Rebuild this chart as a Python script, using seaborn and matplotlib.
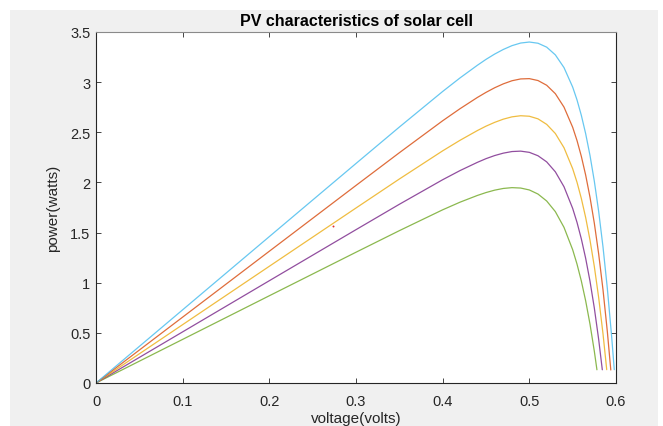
import matplotlib
matplotlib.use("Agg")
import matplotlib.pyplot as plt
from matplotlib.patches import Rectangle
import seaborn as sns
import pandas as pd

# ---- data ----
v_common = [0, 0.1, 0.2, 0.3, 0.35, 0.4, 0.42, 0.44, 0.45, 0.46, 0.47, 0.48,
            0.49, 0.50, 0.51, 0.52, 0.53, 0.54, 0.55, 0.555, 0.56, 0.565,
            0.57, 0.575, 0.58]

v_blue = v_common + [0.585, 0.59, 0.595, 0.598]
p_blue = [0, 0.730, 1.460, 2.189, 2.552, 2.907, 3.042, 3.168, 3.227, 3.280,
          3.326, 3.364, 3.390, 3.400, 3.388, 3.349, 3.272, 3.145, 2.951,
          2.823, 2.669, 2.486, 2.269, 2.012, 1.711, 1.357, 0.944, 0.461, 0.133]

v_orange = v_common + [0.585, 0.59, 0.594]
p_orange = [0, 0.657, 1.314, 1.970, 2.296, 2.615, 2.735, 2.847, 2.898, 2.944,
            2.983, 3.014, 3.032, 3.035, 3.016, 2.969, 2.885, 2.751, 2.550,
            2.418, 2.260, 2.073, 1.852, 1.593, 1.287, 0.930, 0.513, 0.130]

v_yellow = v_common + [0.585, 0.5893]
p_yellow = [0, 0.582, 1.164, 1.745, 2.034, 2.315, 2.420, 2.517, 2.561, 2.599,
            2.631, 2.654, 2.665, 2.660, 2.634, 2.579, 2.488, 2.346, 2.137,
            2.002, 1.840, 1.650, 1.425, 1.161, 0.852, 0.491, 0.133]

v_purple = v_common + [0.5842]
p_purple = [0, 0.510, 1.020, 1.529, 1.782, 2.027, 2.118, 2.200, 2.237, 2.268,
            2.292, 2.308, 2.312, 2.300, 2.266, 2.205, 2.106, 1.957, 1.741,
            1.602, 1.437, 1.243, 1.015, 0.747, 0.435, 0.132]

v_green = v_common[:-1] + [0.578]
p_green = [0, 0.435, 0.870, 1.304, 1.519, 1.727, 1.803, 1.870, 1.899, 1.923,
           1.940, 1.948, 1.944, 1.925, 1.884, 1.815, 1.709, 1.552, 1.329,
           1.186, 1.017, 0.819, 0.587, 0.316, 0.132]

dot_v = [0.2738]
dot_p = [1.562]

x_ticks = [0, 0.1, 0.2, 0.3, 0.4, 0.5, 0.6]
x_tick_labels = ["0", "0.1", "0.2", "0.3", "0.4", "0.5", "0.6"]
y_ticks = [0, 0.5, 1, 1.5, 2, 2.5, 3, 3.5]
y_tick_labels = ["0", "0.5", "1", "1.5", "2", "2.5", "3", "3.5"]

title = "PV characteristics of solar cell"
xlabel = "voltage(volts)"
ylabel = "power(watts)"

# ---- build long-form table ----
series = [("c1", v_green, p_green), ("c2", v_purple, p_purple),
          ("c3", v_yellow, p_yellow), ("c4", v_orange, p_orange),
          ("c5", v_blue, p_blue)]
rows = []
for name, vs, ps in series:
    for v, p in zip(vs, ps):
        rows.append({"voltage": v, "power": p, "curve": name})
df = pd.DataFrame(rows)
palette = {"c1": "#77AC30", "c2": "#7E2F8E", "c3": "#EDB120",
           "c4": "#D95319", "c5": "#4DBEEE"}

sns.set_style("white")
plt.rcParams['font.family'] = ['Liberation Sans', 'DejaVu Sans']
text_color = "#262626"

fig = plt.figure(figsize=(6.63, 4.27), dpi=100)
fig.patch.set_facecolor("white")
fig.patches.append(Rectangle((10 / 663, 0), 648 / 663, 416 / 427,
                             transform=fig.transFigure, facecolor="#f0f0f0",
                             edgecolor="none", zorder=-10))
ax = fig.add_axes([96 / 663, 1 - 384 / 427, 520 / 663, 351 / 427])
ax.set_facecolor("white")

sns.lineplot(data=df, x="voltage", y="power", hue="curve", palette=palette,
             sort=False, estimator=None, legend=False, linewidth=0.9,
             alpha=0.85, ax=ax)
ax.plot(dot_v, dot_p, linestyle="none", marker="o", markersize=1.4,
        color="#E03030", markeredgewidth=0)

ax.set_xlim(0, 0.6)
ax.set_ylim(0, 3.5)
ax.set_xticks(x_ticks)
ax.set_xticklabels(x_tick_labels)
ax.set_yticks(y_ticks)
ax.set_yticklabels(y_tick_labels)

for s in ["left", "bottom", "right"]:
    ax.spines[s].set_color(text_color)
    ax.spines[s].set_linewidth(0.8)
    ax.spines[s].set_visible(True)
ax.spines["top"].set_color("#8a8a8a")
ax.spines["top"].set_linewidth(0.8)
ax.spines["top"].set_visible(True)

ax.tick_params(axis="both", direction="in", length=3.5, width=0.6,
               colors=text_color, labelsize=10.5, top=True, right=True,
               bottom=True, left=True)
ax.tick_params(axis="x", pad=8)
ax.tick_params(axis="y", pad=4)

ax.set_xlabel(xlabel, fontsize=11, color=text_color, labelpad=2)
ax.set_ylabel(ylabel, fontsize=11, color=text_color, labelpad=7)
ax.set_title(title, fontsize=11.5, fontweight="bold", color="black", pad=5)

fig.savefig("out.png", dpi=100, facecolor=fig.get_facecolor())
